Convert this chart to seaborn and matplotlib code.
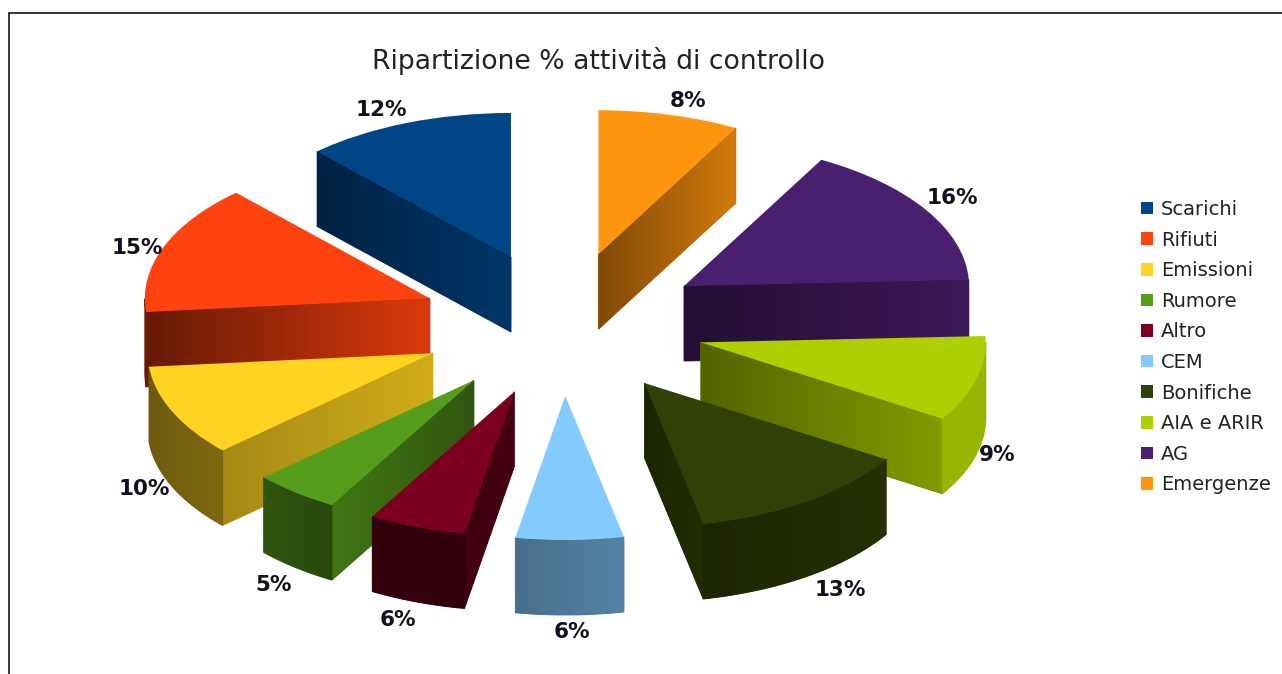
import numpy as np
import seaborn as sns
import matplotlib.pyplot as plt
from matplotlib.colors import to_rgb
from matplotlib.lines import Line2D
from matplotlib.patches import Polygon

categories = ['Scarichi', 'Rifiuti', 'Emissioni', 'Rumore', 'Altro', 'CEM',
              'Bonifiche', 'AIA e ARIR', 'AG', 'Emergenze']
# slice shares as measured on the picture, the printed labels are rounded
values = [11.9, 14.6, 10.3, 4.9, 5.5, 6.1, 12.8, 9.6, 16.3, 8]
percent_labels = ['12%', '15%', '10%', '5%', '6%', '6%', '13%', '9%', '16%', '8%']
colors = ['#004586', '#ff420e', '#ffd320', '#579d1c', '#7e0021', '#83caff',
          '#314004', '#aecf00', '#4b1f6f', '#ff950e']

# shading of the side faces, left to right: (wall, wall, cut, cut)
shades = [(.5, .5, .5, .78), (.4, .5, .4, .86), (.43, .5, .65, .82),
          (.55, .45, .75, .55), (.4, .4, .5, .55), (.55, .65, .55, .65),
          (.6, .75, .6, .7), (.87, .87, .48, .75), (.5, .5, .48, .8),
          (.5, .5, .5, .82)]

# where the percent labels sit, in image pixels
label_px = [(381, 110), (137, 248), (144, 489), (274, 585), (398, 620),
            (572, 632), (840, 590), (997, 455), (952, 198), (688, 101)]

W, H = 1282, 674
CX, CY, RX, RY = 563, 324, 285, 144
EXPLODE = 0.5
DEPTH = 75 / RY

sns.set_theme(style='white')
plt.rcParams['font.family'] = ['DejaVu Sans']
palette = sns.color_palette(colors)

fig = plt.figure(figsize=(W / 100, H / 100), dpi=100)
ax = fig.add_axes([0, 0, 1, 1])

wedges, _ = ax.pie(values, colors=palette, startangle=90, counterclock=True,
                   explode=[EXPLODE] * len(values), radius=1,
                   wedgeprops={'linewidth': 0})
ax.set_aspect('auto')


def shaded_face(pts, rgb, left, right, z):
    pts = np.array(pts)
    base = np.array(rgb)
    # solid polygon below hides the jagged edge of the clipped gradient
    mean = base * (left + right) / 2
    ax.add_patch(Polygon(pts, fc=mean, ec=mean, lw=0.7, zorder=z))
    t = np.linspace(left, right, 64)[:, None]
    grad = (t * base)[None, :, :]
    im = ax.imshow(grad, extent=(pts[:, 0].min(), pts[:, 0].max(),
                                 pts[:, 1].min(), pts[:, 1].max()),
                   aspect='auto', interpolation='bilinear', zorder=z)
    im.set_clip_path(Polygon(pts, transform=ax.transData))


def extrude(top):
    top = np.array(top)
    return np.vstack([top, (top - [0, DEPTH])[::-1]])


fracs = np.array(values) / sum(values)
ends = 90 + 360 * np.cumsum(fracs)
starts = ends - 360 * fracs
mids = np.radians((starts + ends) / 2)

# back slices first so the front ones cover them
for rank, i in enumerate(np.argsort(-np.sin(mids))):
    z = 2 + rank * 5
    t1, t2 = np.radians(starts[i]), np.radians(ends[i])
    tip = EXPLODE * np.array([np.cos(mids[i]), np.sin(mids[i])])
    rgb = to_rgb(palette[i])
    wl, wr, cl, cr = shades[i]
    # the cut at exactly 12 o'clock is edge-on, so it needs a small margin
    for t, vis in ((t1, np.cos(t1) > 0.01), (t2, np.cos(t2) < -0.01)):
        if vis:
            rim = tip + [np.cos(t), np.sin(t)]
            shaded_face(extrude([tip, rim]), rgb, cl, cr, z)
    a = np.linspace(t1, t2, 200)
    a = a[np.sin(a) < 0]
    if len(a) > 1:
        arc = tip + np.column_stack([np.cos(a), np.sin(a)])
        shaded_face(extrude(arc), rgb, wl, wr, z + 1)
    wedges[i].set_zorder(z + 2)
ax.set_xlim(-CX / RX, (W - CX) / RX)
ax.set_ylim((CY - H) / RY, CY / RY)


def text_px(x, y, s, **kw):
    fig.text(x / W, 1 - y / H, s, ha='center', va='center', **kw)


text_px(599, 61, 'Ripartizione % attività di controllo', fontsize=19.2, color='#222222')
for (x, y), s in zip(label_px, percent_labels):
    text_px(x, y, s, fontsize=15.5, fontweight='bold', color='#111122')

ax.legend(wedges, categories, loc='upper left', frameon=False,
          bbox_to_anchor=(1141 / W, 1 - 200 / H), bbox_transform=fig.transFigure,
          fontsize=14, labelspacing=0.596, handlelength=0.62, handleheight=0.62,
          handletextpad=0.41, borderpad=0, borderaxespad=0, labelcolor='#222222')

# frame of the original screenshot, only top and left
fig.add_artist(Line2D([9 / W, 9 / W], [0, 1 - 13 / H], color='black', lw=1.1))
fig.add_artist(Line2D([9 / W, 1], [1 - 13 / H, 1 - 13 / H], color='black', lw=1.1))

fig.savefig('out.png', dpi=100)
